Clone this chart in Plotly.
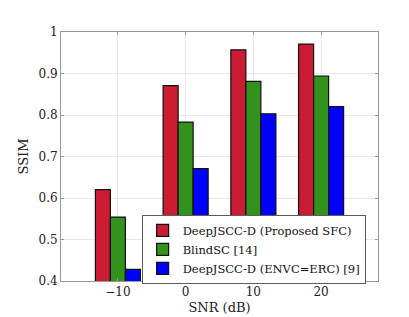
import plotly.graph_objects as go

snr = [-10, 0, 10, 20]
tick_labels = ["\u221210", "0", "10", "20"]
proposed = [0.620, 0.871, 0.957, 0.971]
blindsc = [0.554, 0.783, 0.881, 0.894]
envc = [0.428, 0.671, 0.803, 0.820]

names = ["DeepJSCC-D (Proposed SFC)", "BlindSC [14]", "DeepJSCC-D (ENVC=ERC) [9]"]
colors = ["rgb(204,28,52)", "rgb(50,146,28)", "rgb(0,0,255)"]
series = [proposed, blindsc, envc]

fam = "'DejaVu Serif', 'Times New Roman', serif"
font = dict(family=fam, size=12, color="#222")

fig = go.Figure()
for n, c, v in zip(names, colors, series):
    fig.add_trace(go.Bar(x=snr, y=v, name=n, marker=dict(color=c, line=dict(color="#111", width=1.2))))

fig.update_layout(
    width=409, height=317,
    margin=dict(l=53, r=39, t=24, b=40),
    plot_bgcolor="white", paper_bgcolor="white",
    barmode="group", bargap=0.335, bargroupgap=0,
    font=font,
    showlegend=True,
    legend=dict(x=0.255, y=0.265, xanchor="left", yanchor="top",
                bgcolor="white", bordercolor="#333", borderwidth=0.8,
                font=dict(family=fam, size=11.5, color="#111"),
                tracegroupgap=0, itemwidth=30),
)
fig.update_xaxes(range=[-18.4, 28.4], tickvals=snr, ticktext=tick_labels,
                 showgrid=True, gridcolor="#e8e8e8", gridwidth=0.8,
                 showline=True, linecolor="#999", linewidth=1, mirror="ticks",
                 ticks="inside", ticklen=3, tickcolor="#999",
                 title=dict(text="SNR (dB)", standoff=4, font=dict(family=fam, size=13)), zeroline=False)
fig.update_yaxes(range=[0.4, 1.0], tickvals=[0.4, 0.5, 0.6, 0.7, 0.8, 0.9, 1.0],
                 ticktext=["0.4", "0.5", "0.6", "0.7", "0.8", "0.9", "1"],
                 showgrid=True, gridcolor="#e8e8e8", gridwidth=0.8,
                 showline=True, linecolor="#999", linewidth=1, mirror="ticks",
                 ticks="inside", ticklen=3, tickcolor="#999",
                 title=dict(text="SSIM", standoff=6, font=dict(family=fam, size=13)), zeroline=False)
fig.write_html("out.html")
